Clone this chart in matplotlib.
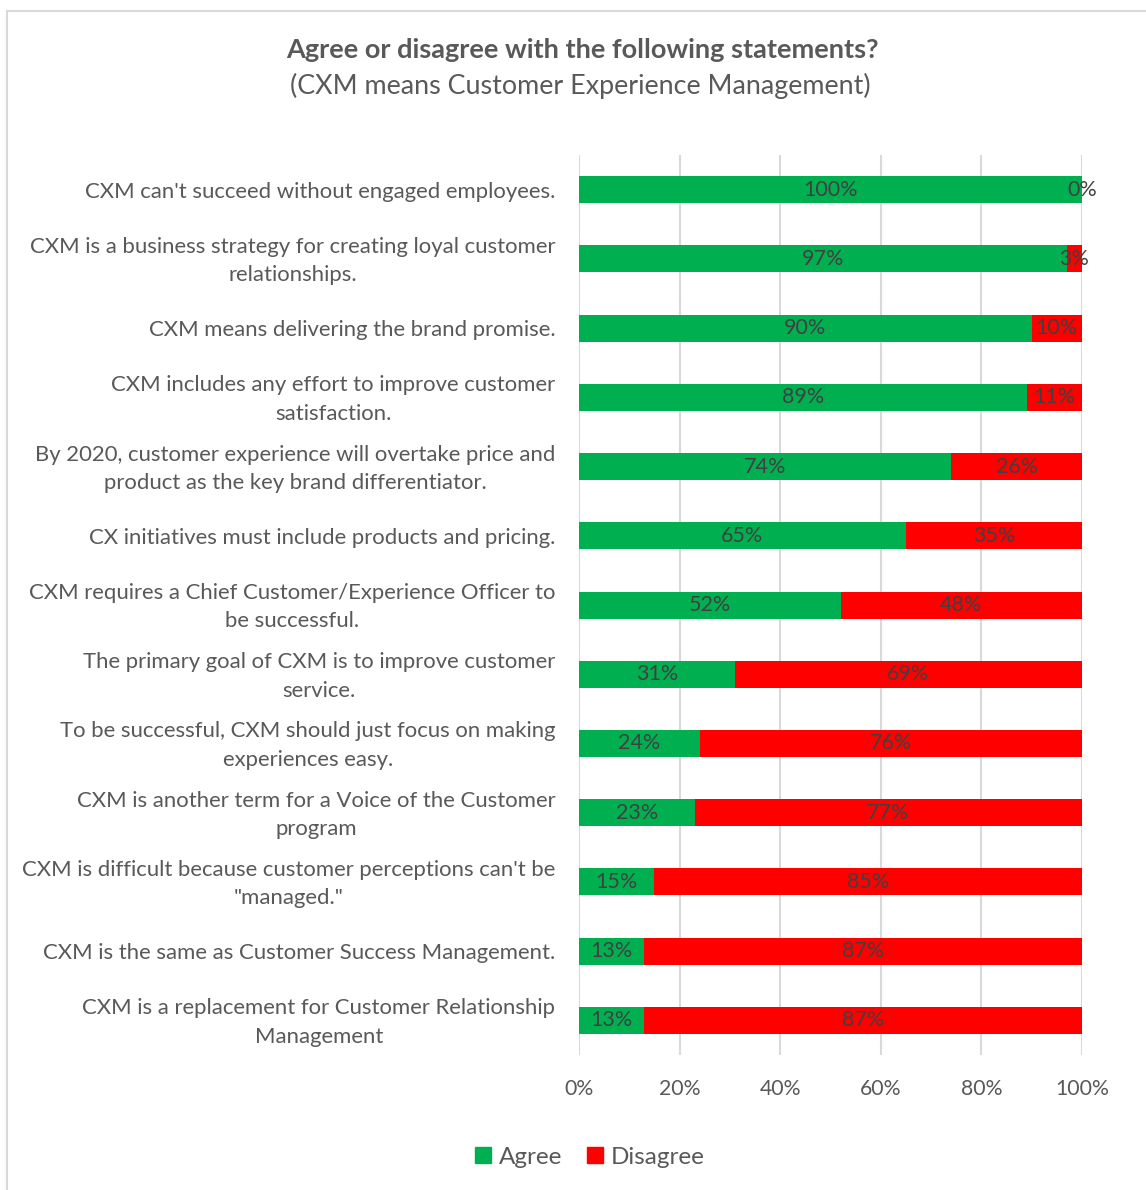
import matplotlib
matplotlib.use("Agg")
import matplotlib.pyplot as plt
from matplotlib.patches import Rectangle
from matplotlib.transforms import ScaledTranslation

plt.rcParams['font.family'] = ['Lato', 'DejaVu Sans']

statements = [
    "CXM can't succeed without engaged employees.",
    "CXM is a business strategy for creating loyal customer\nrelationships.",
    "CXM means delivering the brand promise.",
    "CXM includes any effort to improve customer\nsatisfaction.",
    "By 2020, customer experience will overtake price and\nproduct as the key brand differentiator.",
    "CX initiatives must include products and pricing.",
    "CXM requires a Chief Customer/Experience Officer to\nbe successful.",
    "The primary goal of CXM is to improve customer\nservice.",
    "To be successful, CXM should just focus on making\nexperiences easy.",
    "CXM is another term for a Voice of the Customer\nprogram",
    "CXM is difficult because customer perceptions can't be\n\"managed.\"",
    "CXM is the same as Customer Success Management.",
    "CXM is a replacement for Customer Relationship\nManagement",
]
agree = [100, 97, 90, 89, 74, 65, 52, 31, 24, 23, 15, 13, 13]
disagree = [0, 3, 10, 11, 26, 35, 48, 69, 76, 77, 85, 87, 87]
x_ticks = [0, 20, 40, 60, 80, 100]
x_tick_labels = ["0%", "20%", "40%", "60%", "80%", "100%"]

GREEN = "#00b050"
RED = "#ff0000"
TEXT = "#595959"
LABEL = "#404040"

W, H = 1146, 1190
fig = plt.figure(figsize=(W / 100, H / 100), dpi=100)

# chart frame
fig.patches.append(Rectangle((7 / W, -0.01), 1.02, 1 - 11 / H + 0.01,
                             transform=fig.transFigure, fill=False,
                             edgecolor="#d9d9d9", linewidth=1.5))

ax = fig.add_axes([579 / W, 1 - 1055 / H, (1082 - 579) / W, (1055 - 155) / H])
n = len(statements)
y = list(range(n))
bar_h = 0.39
ax.barh(y, agree, height=bar_h, color=GREEN, label="Agree", zorder=3)
ax.barh(y, disagree, left=agree, height=bar_h, color=RED, label="Disagree", zorder=3)

for i in range(n):
    ax.text(agree[i] / 2, y[i], f"{agree[i]}%", ha="center", va="center",
            fontsize=15.5, color=LABEL, zorder=4)
    ax.text(agree[i] + disagree[i] / 2, y[i], f"{disagree[i]}%", ha="center",
            va="center", fontsize=15.5, color=LABEL, zorder=4)

ax.set_xlim(0, 100)
ax.set_ylim(n - 0.5, -0.5)
ax.set_xticks(x_ticks)
ax.set_xticklabels(x_tick_labels, fontsize=15.3)
ax.set_yticks(y)
ax.set_yticklabels(statements, multialignment="center", fontsize=15.9,
                   linespacing=1.52, va="center_baseline")
ax.tick_params(axis="both", length=0, colors=TEXT)
ax.tick_params(axis="x", pad=17)
ax.tick_params(axis="y", pad=17)
ax.grid(axis="x", color="#d9d9d9", linewidth=1.5, zorder=0)
for s in ax.spines.values():
    s.set_visible(False)

# nudge wrapped labels up so both lines sit centred on their bar
nudge = ScaledTranslation(0, 4 / 100, fig.dpi_scale_trans)
for lab in ax.get_yticklabels():
    if "\n" in lab.get_text():
        lab.set_transform(lab.get_transform() + nudge)

fig.text(582 / W, 1 - 50 / H, "Agree or disagree with the following statements?",
         ha="center", va="center", fontsize=19.5, fontweight="bold", color=TEXT)
fig.text(580 / W, 1 - 86 / H, "(CXM means Customer Experience Management)",
         ha="center", va="center", fontsize=19.4, color=TEXT)

handles = [Rectangle((0, 0), 1, 1, color=GREEN), Rectangle((0, 0), 1, 1, color=RED)]
fig.legend(handles, ["Agree", "Disagree"], loc="center", ncol=2,
           bbox_to_anchor=(590 / W, 1 - 1157 / H), frameon=False,
           fontsize=17.5, labelcolor=TEXT, handlelength=0.65, handleheight=0.65,
           handletextpad=0.35, columnspacing=1.0)

fig.savefig("out.png", dpi=100)
